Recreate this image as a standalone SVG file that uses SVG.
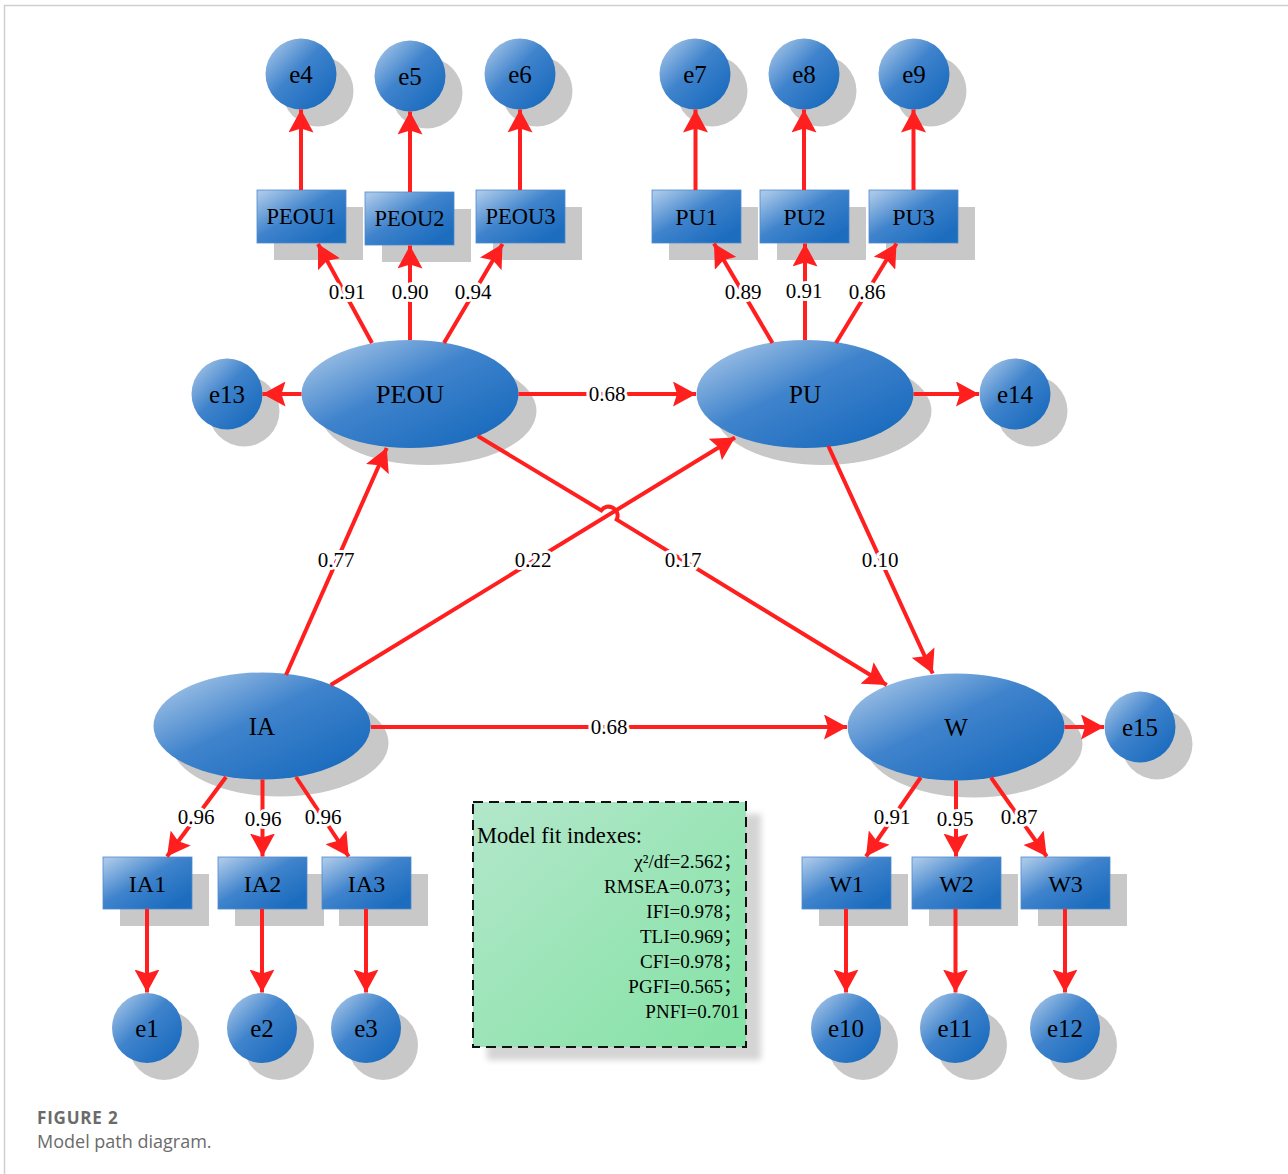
<svg xmlns="http://www.w3.org/2000/svg" width="1288" height="1174" viewBox="0 0 1288 1174">
<style>
.sh{fill:#c8c8c8}
.nd{fill:url(#blue)}
.rc{fill:url(#blue);stroke:#4f8bd0;stroke-width:0.8}
.lb{font-family:"Liberation Serif","Times New Roman",serif;font-size:25px;fill:#000;text-anchor:middle}
.lr{font-family:"Liberation Serif","Times New Roman",serif;font-size:24px;fill:#000;text-anchor:middle}
.lp{font-family:"Liberation Serif","Times New Roman",serif;font-size:22.5px;fill:#000;text-anchor:middle}
.cn path{fill:none;stroke:#ff1f1f;stroke-width:4;marker-end:url(#ah)}
.el{font-family:"Liberation Serif","Times New Roman",serif;font-size:21px;fill:#000;text-anchor:middle;stroke:#fff;stroke-width:6;paint-order:stroke;stroke-linejoin:round}
.fi{font-family:"Liberation Serif","Times New Roman","Noto Sans CJK SC",serif;font-size:19px;fill:#000;text-anchor:end}
</style>
<defs>
<linearGradient id="blue" x1="0.05" y1="0.05" x2="0.85" y2="0.85">
<stop offset="0" stop-color="#a8c7e8"/>
<stop offset="0.5" stop-color="#3f83cc"/>
<stop offset="1" stop-color="#1d6dbf"/>
</linearGradient>
<linearGradient id="green" x1="0" y1="0" x2="1" y2="1">
<stop offset="0" stop-color="#b3e7cb"/>
<stop offset="1" stop-color="#84e2a4"/>
</linearGradient>
<filter id="blur" x="-10%" y="-10%" width="120%" height="120%">
<feGaussianBlur stdDeviation="3"/>
</filter>
<marker id="ah" viewBox="0 0 23 25" refX="23" refY="12.5" markerWidth="23" markerHeight="25" markerUnits="userSpaceOnUse" orient="auto">
<path d="M0,0 L23,12.5 L0,25 L4,12.5 Z" fill="#ff1f1f"/>
</marker>
</defs>
<rect width="1288" height="1174" fill="#fff"/>
<path d="M4.5,1174 V5.5 H1288" fill="none" stroke="#cfcfcf" stroke-width="1.5"/>

<g id="e4"><circle class="sh" cx="318" cy="91" r="35.5"/><circle class="nd" cx="301" cy="74" r="35.5"/><text class="lb" x="301" y="82.5">e4</text></g>
<g id="e5"><circle class="sh" cx="427" cy="93" r="35.5"/><circle class="nd" cx="410" cy="76" r="35.5"/><text class="lb" x="410" y="84.5">e5</text></g>
<g id="e6"><circle class="sh" cx="537" cy="91" r="35.5"/><circle class="nd" cx="520" cy="74" r="35.5"/><text class="lb" x="520" y="82.5">e6</text></g>
<g id="e7"><circle class="sh" cx="712" cy="91" r="35.5"/><circle class="nd" cx="695" cy="74" r="35.5"/><text class="lb" x="695" y="82.5">e7</text></g>
<g id="e8"><circle class="sh" cx="821" cy="91" r="35.5"/><circle class="nd" cx="804" cy="74" r="35.5"/><text class="lb" x="804" y="82.5">e8</text></g>
<g id="e9"><circle class="sh" cx="931" cy="91" r="35.5"/><circle class="nd" cx="914" cy="74" r="35.5"/><text class="lb" x="914" y="82.5">e9</text></g>

<g id="PEOU1"><rect class="sh" x="274" y="207" width="89" height="53"/><rect class="rc" x="257" y="190" width="89" height="53"/><text class="lp" x="301.5" y="224">PEOU1</text></g>
<g id="PEOU2"><rect class="sh" x="382" y="209" width="89" height="53"/><rect class="rc" x="365" y="192" width="89" height="53"/><text class="lp" x="409.5" y="226">PEOU2</text></g>
<g id="PEOU3"><rect class="sh" x="493" y="207" width="89" height="53"/><rect class="rc" x="476" y="190" width="89" height="53"/><text class="lp" x="520.5" y="224">PEOU3</text></g>
<g id="PU1"><rect class="sh" x="669" y="207" width="89" height="53"/><rect class="rc" x="652" y="190" width="89" height="53"/><text class="lr" x="696.5" y="225">PU1</text></g>
<g id="PU2"><rect class="sh" x="777" y="207" width="89" height="53"/><rect class="rc" x="760" y="190" width="89" height="53"/><text class="lr" x="804.5" y="225">PU2</text></g>
<g id="PU3"><rect class="sh" x="886" y="207" width="89" height="53"/><rect class="rc" x="869" y="190" width="89" height="53"/><text class="lr" x="913.5" y="225">PU3</text></g>

<g id="e13"><circle class="sh" cx="244" cy="411" r="35.5"/><circle class="nd" cx="227" cy="394" r="35.5"/><text class="lb" x="227" y="402.5">e13</text></g>
<g id="PEOU"><ellipse class="sh" cx="428" cy="411" rx="108.5" ry="54"/><ellipse class="nd" cx="410" cy="394" rx="108.5" ry="54"/><text class="lb" x="410" y="403" style="font-size:26px">PEOU</text></g>
<g id="PU"><ellipse class="sh" cx="823" cy="411" rx="108.5" ry="54"/><ellipse class="nd" cx="805" cy="394" rx="108.5" ry="54"/><text class="lb" x="805" y="403">PU</text></g>
<g id="e14"><circle class="sh" cx="1032" cy="411" r="35.5"/><circle class="nd" cx="1015" cy="394" r="35.5"/><text class="lb" x="1015" y="402.5">e14</text></g>

<g id="IA"><ellipse class="sh" cx="280" cy="743" rx="108.5" ry="53.5"/><ellipse class="nd" cx="262" cy="726" rx="108.5" ry="53.5"/><text class="lb" x="262" y="735">IA</text></g>
<g id="W"><ellipse class="sh" cx="974" cy="744" rx="108.5" ry="53.5"/><ellipse class="nd" cx="956" cy="727" rx="108.5" ry="53.5"/><text class="lb" x="956" y="736">W</text></g>
<g id="e15"><circle class="sh" cx="1157" cy="744" r="35.5"/><circle class="nd" cx="1140" cy="727" r="35.5"/><text class="lb" x="1140" y="735.5">e15</text></g>

<g id="IA1"><rect class="sh" x="120" y="874" width="89" height="52"/><rect class="rc" x="103" y="857" width="89" height="52"/><text class="lr" x="147.5" y="891.5">IA1</text></g>
<g id="IA2"><rect class="sh" x="235" y="874" width="89" height="52"/><rect class="rc" x="218" y="857" width="89" height="52"/><text class="lr" x="262.5" y="891.5">IA2</text></g>
<g id="IA3"><rect class="sh" x="339" y="874" width="89" height="52"/><rect class="rc" x="322" y="857" width="89" height="52"/><text class="lr" x="366.5" y="891.5">IA3</text></g>
<g id="W1"><rect class="sh" x="819" y="874" width="89" height="52"/><rect class="rc" x="802" y="857" width="89" height="52"/><text class="lr" x="846.5" y="891.5">W1</text></g>
<g id="W2"><rect class="sh" x="929" y="874" width="89" height="52"/><rect class="rc" x="912" y="857" width="89" height="52"/><text class="lr" x="956.5" y="891.5">W2</text></g>
<g id="W3"><rect class="sh" x="1038" y="874" width="89" height="52"/><rect class="rc" x="1021" y="857" width="89" height="52"/><text class="lr" x="1065.5" y="891.5">W3</text></g>

<g id="e1"><circle class="sh" cx="164" cy="1045" r="35"/><circle class="nd" cx="147" cy="1028" r="35"/><text class="lb" x="147" y="1036.5">e1</text></g>
<g id="e2"><circle class="sh" cx="279" cy="1045" r="35"/><circle class="nd" cx="262" cy="1028" r="35"/><text class="lb" x="262" y="1036.5">e2</text></g>
<g id="e3"><circle class="sh" cx="383" cy="1045" r="35"/><circle class="nd" cx="366" cy="1028" r="35"/><text class="lb" x="366" y="1036.5">e3</text></g>
<g id="e10"><circle class="sh" cx="863" cy="1045" r="35"/><circle class="nd" cx="846" cy="1028" r="35"/><text class="lb" x="846" y="1036.5">e10</text></g>
<g id="e11"><circle class="sh" cx="972" cy="1045" r="35"/><circle class="nd" cx="955" cy="1028" r="35"/><text class="lb" x="955" y="1036.5">e11</text></g>
<g id="e12"><circle class="sh" cx="1082" cy="1045" r="35"/><circle class="nd" cx="1065" cy="1028" r="35"/><text class="lb" x="1065" y="1036.5">e12</text></g>

<g id="fit">
<rect x="487" y="814" width="274" height="246" fill="#d4d4d4" filter="url(#blur)"/>
<rect x="473" y="802" width="273" height="245" fill="url(#green)" stroke="#111" stroke-width="2" stroke-dasharray="10,6"/>
<text x="477" y="843" style="font-family:'Liberation Serif','Times New Roman',serif;font-size:22.5px;fill:#000">Model fit indexes:</text>
<text class="fi" x="742" y="868">χ²/df=2.562；</text>
<text class="fi" x="742" y="893">RMSEA=0.073；</text>
<text class="fi" x="742" y="918">IFI=0.978；</text>
<text class="fi" x="742" y="943">TLI=0.969；</text>
<text class="fi" x="742" y="968">CFI=0.978；</text>
<text class="fi" x="742" y="993">PGFI=0.565；</text>
<text class="fi" x="740" y="1018">PNFI=0.701</text>
</g>

<g id="connectors" class="cn">
<path d="M301,190 V109.5"/>
<path d="M410,192 V111.5"/>
<path d="M520,190 V109.5"/>
<path d="M695.5,190 V109.5"/>
<path d="M804,190 V109.5"/>
<path d="M913.5,190 V109.5"/>
<path d="M372,343 L318,244"/>
<path d="M410,340 L410,245.5"/>
<path d="M444,343 L502.5,244"/>
<path d="M772.5,343 L714,243.5"/>
<path d="M805,340 L805,243.5"/>
<path d="M836,343 L896.5,243.5"/>
<path d="M301.5,394 H262.5"/>
<path d="M518.5,394 H696"/>
<path d="M913.5,394 H979"/>
<path d="M286,675 L386.7,448"/>
<path d="M330.7,685 L735,437.5"/>
<path d="M477.7,436 L601.3,510.4 A9,9 0 0 1 616.7,519.6 L886.7,685"/>
<path d="M828.3,446 L932.7,673.5"/>
<path d="M371,727 H847"/>
<path d="M1064.5,727 H1104"/>
<path d="M226,777 L167,856.5"/>
<path d="M262.5,779.5 V856.5"/>
<path d="M296,777 L348.7,856.5"/>
<path d="M920.7,777.5 L866,856.5"/>
<path d="M956,780.5 V856.5"/>
<path d="M991,777.5 L1046.7,856.5"/>
<path d="M147,909 V992.5"/>
<path d="M262,909 V992.5"/>
<path d="M366,909 V992.5"/>
<path d="M846,909 V992.5"/>
<path d="M955.5,909 V992.5"/>
<path d="M1065,909 V992.5"/>
</g>

<g id="edge-labels">
<text class="el" x="347" y="299">0.91</text>
<text class="el" x="410" y="299">0.90</text>
<text class="el" x="473" y="299">0.94</text>
<text class="el" x="743" y="299">0.89</text>
<text class="el" x="804" y="298">0.91</text>
<text class="el" x="867" y="299">0.86</text>
<text class="el" x="607" y="401">0.68</text>
<text class="el" x="336" y="567">0.77</text>
<text class="el" x="533" y="567">0.22</text>
<text class="el" x="683" y="567">0.17</text>
<text class="el" x="880" y="567">0.10</text>
<text class="el" x="609" y="734">0.68</text>
<text class="el" x="196" y="824">0.96</text>
<text class="el" x="263" y="826">0.96</text>
<text class="el" x="323" y="824">0.96</text>
<text class="el" x="892" y="824">0.91</text>
<text class="el" x="955" y="826">0.95</text>
<text class="el" x="1019" y="824">0.87</text>
</g>

<g id="caption">
<text x="37" y="1124" style="font-family:'Open Sans','Noto Sans',sans-serif;font-size:17px;font-weight:bold;fill:#6b6b6b;letter-spacing:0.8px">FIGURE 2</text>
<text x="37" y="1148" style="font-family:'Open Sans','Noto Sans',sans-serif;font-size:18px;fill:#6b6b6b">Model path diagram.</text>
</g>
</svg>
